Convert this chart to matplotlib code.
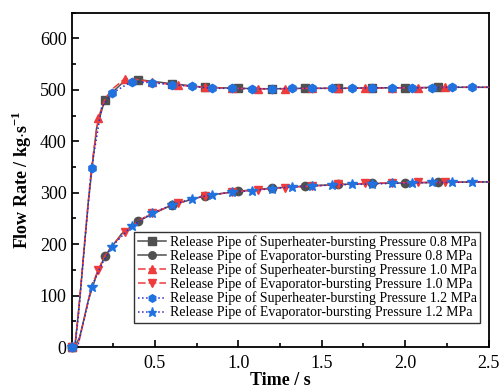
import matplotlib
matplotlib.use('Agg')
import matplotlib.pyplot as plt
from matplotlib.ticker import MultipleLocator

plt.rcParams['font.family'] = 'Liberation Serif'
plt.rcParams['mathtext.fontset'] = 'custom'
plt.rcParams['mathtext.rm'] = 'Liberation Serif'
plt.rcParams['mathtext.bf'] = 'Liberation Serif:bold'

# time grids (s) per pressure
t_08 = [0, 0.02, 0.05, 0.1, 0.15, 0.2, 0.3, 0.4, 0.6, 0.8, 1.0, 1.2, 1.4, 1.6,
        1.8, 2.0, 2.2, 2.4, 2.5]
t_10 = [0, 0.02, 0.04, 0.08, 0.12, 0.16, 0.2, 0.24, 0.32, 0.4, 0.48, 0.64, 0.8,
        0.96, 1.12, 1.28, 1.44, 1.6, 1.76, 1.92, 2.08, 2.24, 2.4, 2.5]
t_12 = [0, 0.02, 0.04, 0.08, 0.12, 0.18, 0.24, 0.36, 0.48, 0.6, 0.72, 0.84,
        0.96, 1.08, 1.2, 1.32, 1.44, 1.56, 1.68, 1.8, 1.92, 2.04, 2.16, 2.28,
        2.4, 2.5]

# flow rate (kg/s)
sup_08 = [0, 0, 95, 280, 425, 481, 512, 520, 512, 505, 503, 502, 503, 503,
          504, 504, 505, 505, 505]
evp_08 = [0, 0, 20, 90, 140, 177, 220, 245, 276, 294, 303, 309, 313, 316,
          318, 319, 320, 321, 321]
sup_10 = [0, 0, 60, 210, 350, 445, 482, 500, 522, 520, 515, 509, 505, 503,
          502, 502, 503, 503, 503, 504, 504, 505, 505, 505]
evp_10 = [0, 0, 5, 60, 117, 150, 177, 196, 224, 245, 260, 280, 294, 301,
          306, 310, 313, 316, 318, 319, 320, 320, 321, 321]
sup_12 = [0, 0, 55, 205, 348, 465, 493, 516, 514, 510, 507, 503, 503, 502,
          502, 503, 503, 503, 503, 504, 504, 504, 504, 505, 505, 505]
evp_12 = [0, 0, 5, 60, 117, 160, 195, 235, 260, 276, 288, 296, 301, 304,
          308, 311, 313, 315, 316, 317, 318, 319, 320, 320, 321, 321]

labels = [
    'Release Pipe of Superheater-bursting Pressure 0.8 MPa',
    'Release Pipe of Evaporator-bursting Pressure 0.8 MPa',
    'Release Pipe of Superheater-bursting Pressure 1.0 MPa',
    'Release Pipe of Evaporator-bursting Pressure 1.0 MPa',
    'Release Pipe of Superheater-bursting Pressure 1.2 MPa',
    'Release Pipe of Evaporator-bursting Pressure 1.2 MPa',
]

gray = '#505050'
red = '#ee3b3b'
blue = '#1f72e0'
dblue = '#2a2ad0'


def marks(t, step, last):
    return [i for i, v in enumerate(t)
            if abs(v / step - round(v / step)) < 1e-6 and v <= last]


fig = plt.figure(figsize=(5, 3.91), dpi=100)
ax = fig.add_axes([0.143, 0.1125, 0.834, 0.855])

series = [
    (t_08, sup_08, 0.2, 2.3, 's', '-', gray, gray),
    (t_08, evp_08, 0.2, 2.3, 'o', '-', gray, gray),
    (t_10, sup_10, 0.16, 2.3, '^', (0, (5, 2)), red, red),
    (t_10, evp_10, 0.16, 2.3, 'v', (0, (5, 2)), red, red),
    (t_12, sup_12, 0.12, 2.45, 'h', ':', dblue, blue),
    (t_12, evp_12, 0.12, 2.45, '*', ':', dblue, blue),
]
for (t, y, step, last, mk, ls, lc, mc), lab in zip(series, labels):
    ms = 7.5 if mk == '*' else 6
    ax.plot(t, y, linestyle=ls, color=lc, lw=1.1, marker=mk, ms=ms,
            mfc=mc, mec=mc, markevery=marks(t, step, last), label=lab,
            clip_on=False, zorder=3)

ax.set_xlim(0, 2.5)
ax.set_ylim(0, 650)
ax.set_xticks([0.5, 1.0, 1.5, 2.0, 2.5])
ax.xaxis.set_minor_locator(MultipleLocator(0.25))
ax.yaxis.set_major_locator(MultipleLocator(100))
ax.yaxis.set_minor_locator(MultipleLocator(50))
ax.tick_params(which='both', direction='in', labelsize=13, width=1.2)
ax.tick_params(which='major', length=5)
ax.tick_params(which='minor', length=3)
ax.tick_params(axis='x', pad=6)
for s in ax.spines.values():
    s.set_linewidth(1.3)

ax.set_xlabel('Time / s', fontsize=13, fontweight='bold', labelpad=0)
ax.set_ylabel(r'Flow Rate / kg$\cdot$s$^{\mathbf{-1}}$', fontsize=13,
              fontweight='bold', labelpad=4)

leg = ax.legend(loc='lower right', bbox_to_anchor=(0.98, 0.072),
                borderaxespad=0, fontsize=10, frameon=True, fancybox=False,
                handlelength=2.0, handletextpad=0.3, labelspacing=0.02,
                borderpad=0.25, markerscale=0.9)
leg.get_frame().set_edgecolor('black')
leg.get_frame().set_linewidth(1.0)

fig.savefig('out.png', dpi=100)
